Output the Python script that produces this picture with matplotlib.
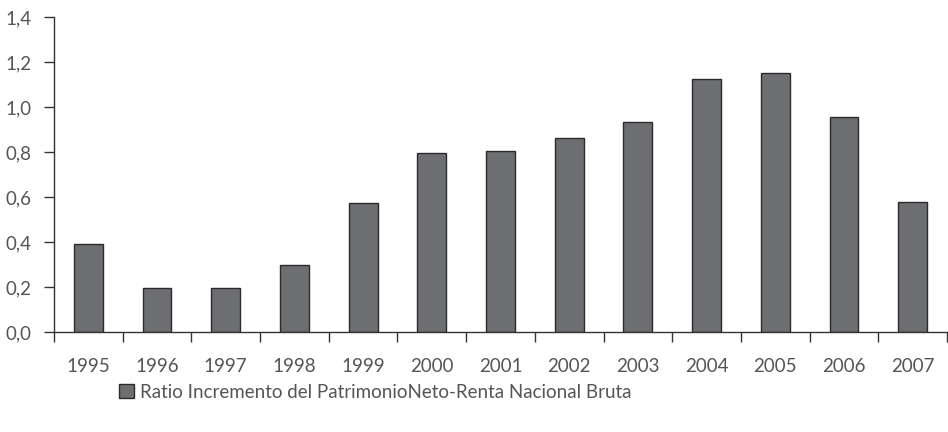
import matplotlib
matplotlib.use("Agg")
import matplotlib.pyplot as plt
import numpy as np
from matplotlib.ticker import FixedLocator, FuncFormatter

plt.rcParams['font.family'] = ['Lato', 'DejaVu Sans']
plt.rcParams['font.weight'] = 'normal'

years = ['1995', '1996', '1997', '1998', '1999', '2000', '2001',
         '2002', '2003', '2004', '2005', '2006', '2007']
values = [0.39, 0.196, 0.196, 0.30, 0.573, 0.797, 0.805,
          0.862, 0.932, 1.124, 1.15, 0.957, 0.578]
series_name = 'Ratio Incremento del PatrimonioNeto-Renta Nacional Bruta'

fig = plt.figure(figsize=(9.48, 4.32), dpi=100)
ax = fig.add_axes([54/948, 1-332/432, (947-54)/948, (332-17)/432])

x = np.arange(len(years))
ax.bar(x, values, width=0.42, color='#6d6e71', edgecolor='#2b2b2b',
       linewidth=1.0, label=series_name, zorder=2)

ax.set_xlim(-0.5, len(years) - 0.5)
ax.set_ylim(0, 1.4)
ax.set_yticks(np.arange(0, 1.41, 0.2))
ax.yaxis.set_major_formatter(FuncFormatter(lambda v, p: f"{v:.1f}".replace('.', ',')))

ax.set_xticks(x)
ax.set_xticklabels(years)
ax.xaxis.set_minor_locator(FixedLocator(np.arange(-0.5, len(years), 1.0)))
ax.tick_params(axis='x', which='major', length=0, pad=19, labelsize=13.5, colors='#555555')
ax.tick_params(axis='x', which='minor', length=7, width=1, color='#333333', direction='out')
ax.tick_params(axis='y', length=7, width=1, color='#333333', direction='out',
               labelsize=13.5, labelcolor='#555555', pad=9)

for s in ['top', 'right']:
    ax.spines[s].set_visible(False)
for s in ['left', 'bottom']:
    ax.spines[s].set_color('#333333')
    ax.spines[s].set_linewidth(1)

leg = fig.legend(loc='center left', bbox_to_anchor=(102/948, 1-392/432), frameon=False,
                 fontsize=13.5, handlelength=0.8, handleheight=0.8, handletextpad=0.3,
                 labelcolor='#555555')

fig.savefig('out.png', dpi=100)
